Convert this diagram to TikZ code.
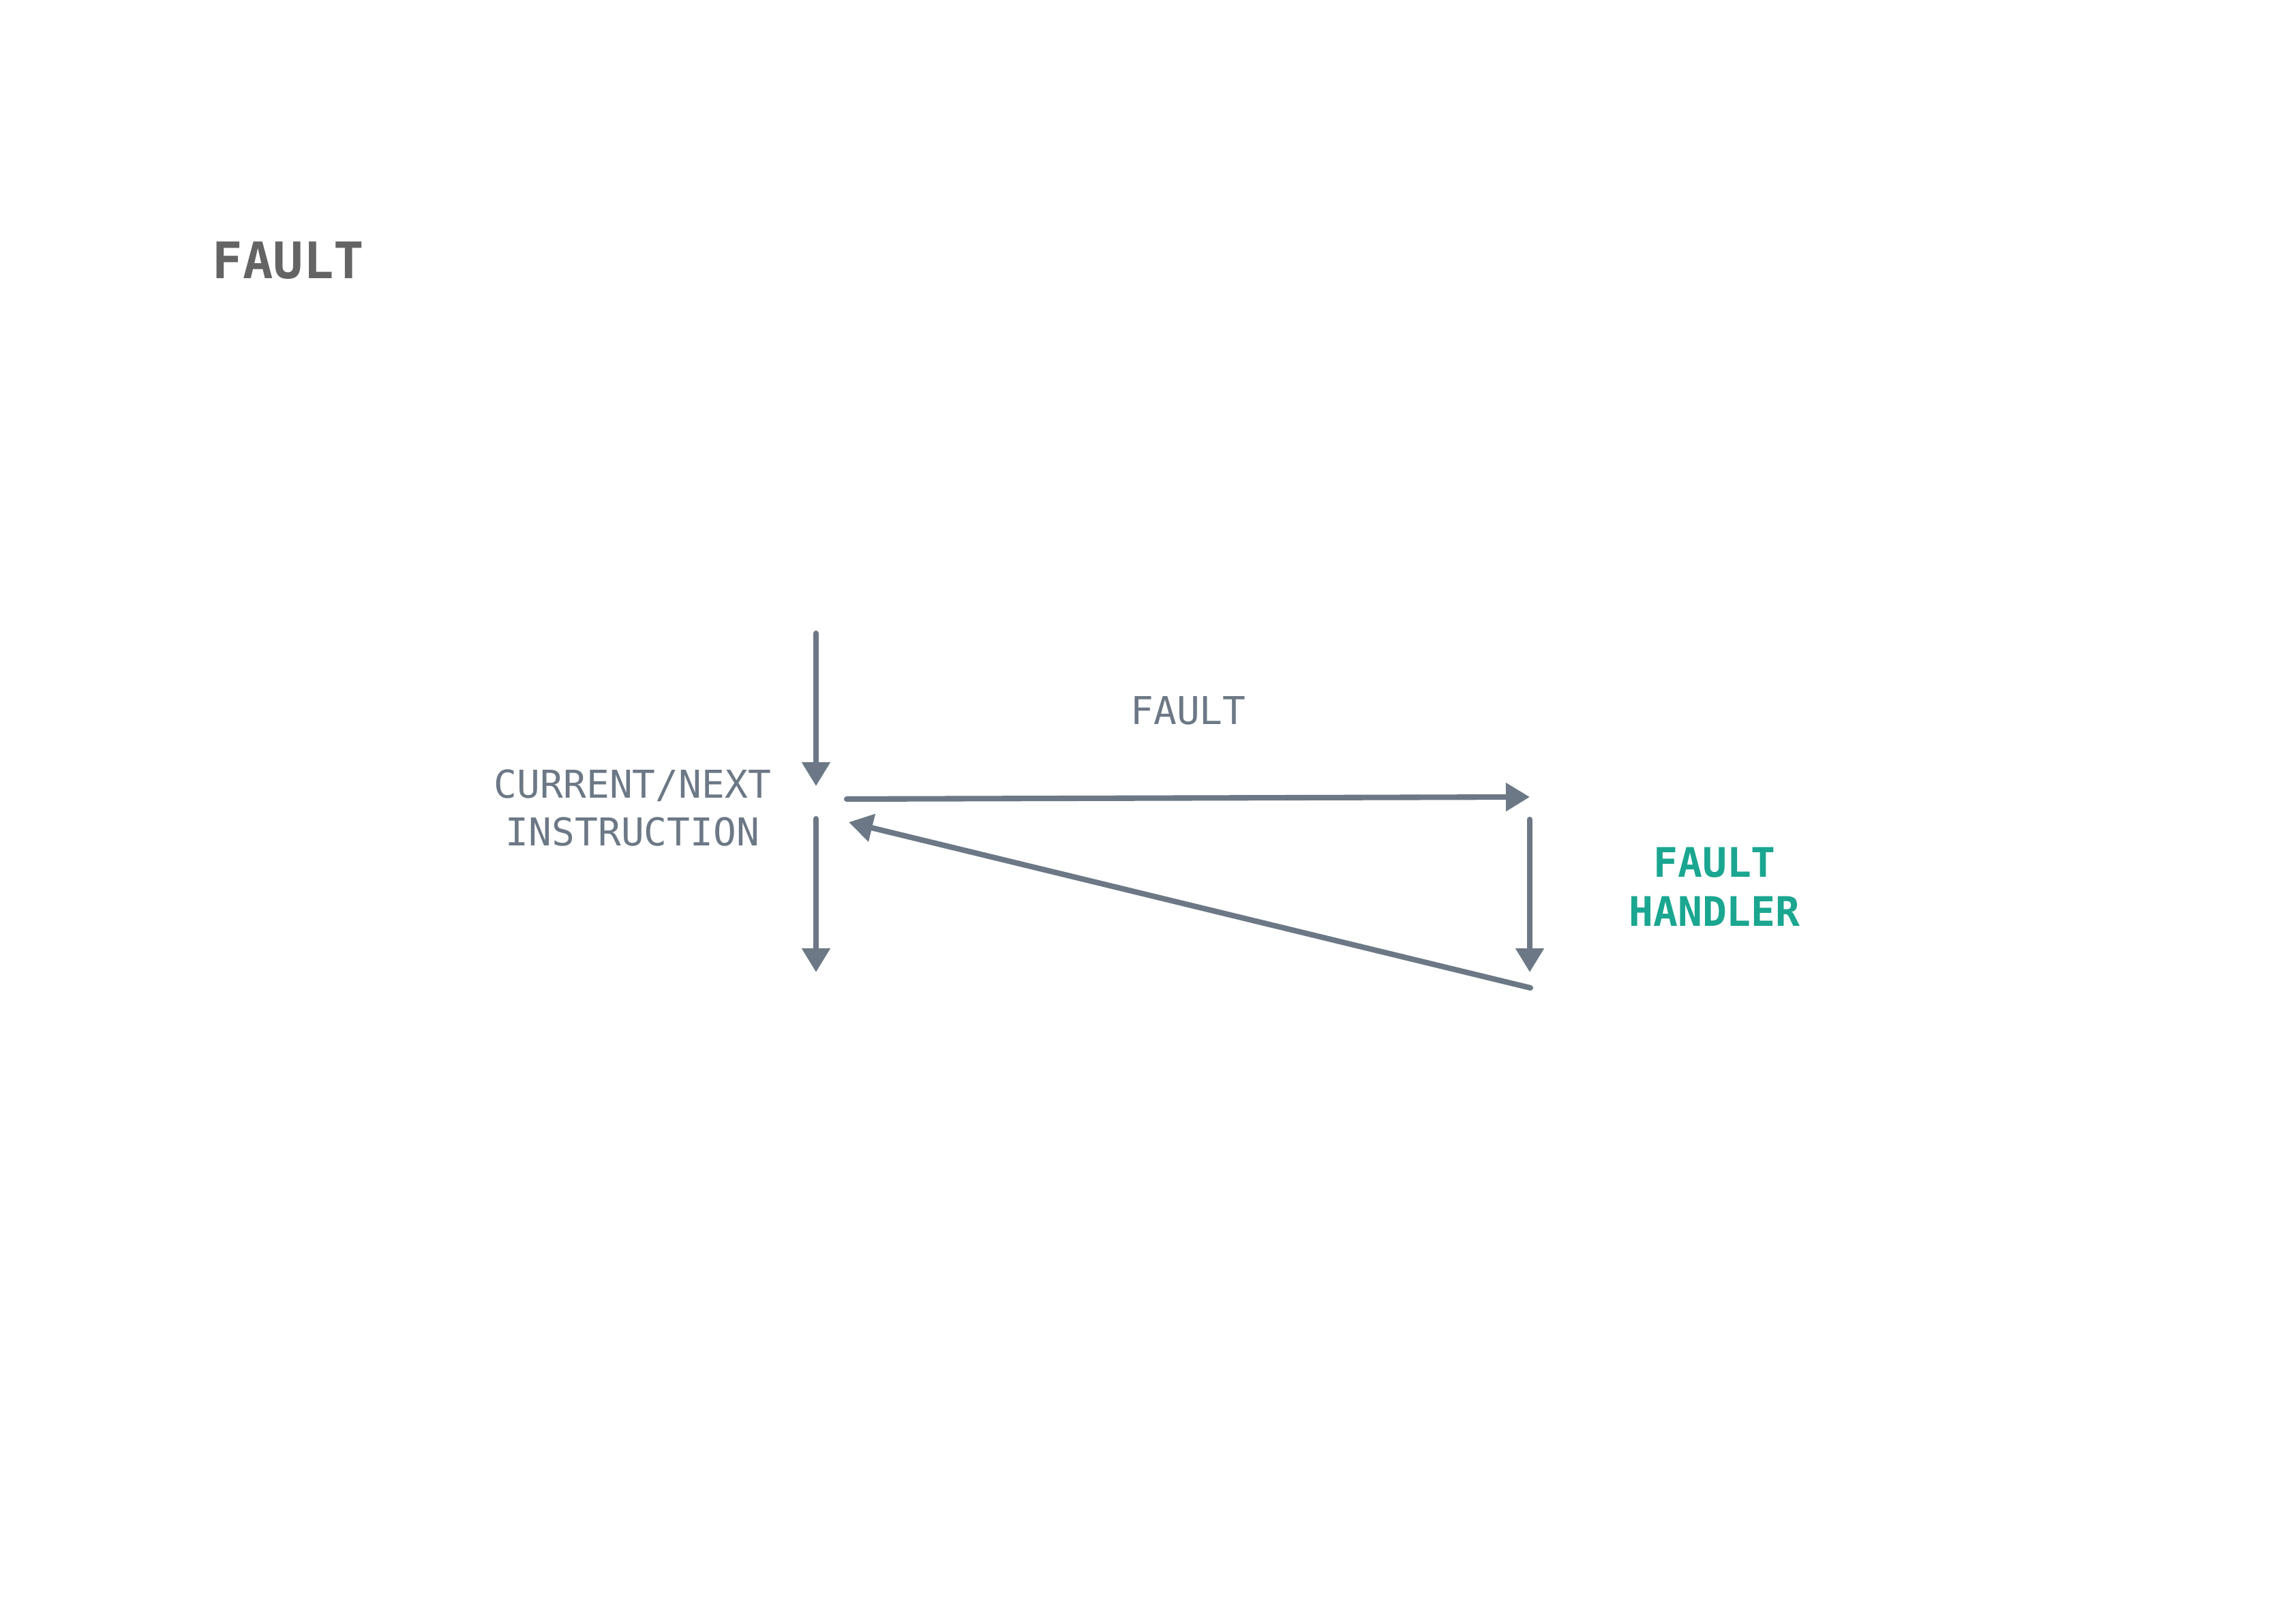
\documentclass[tikz,border=0pt]{standalone}
\usepackage{fontspec}
\setmonofont{DejaVu Sans Mono}
\usetikzlibrary{arrows.meta, positioning}
\definecolor{flowgray}{RGB}{108,120,133}
\definecolor{handlerteal}{RGB}{26,166,144}
\definecolor{titlegray}{RGB}{100,100,100}

\begin{document}
\begin{tikzpicture}[
    >={Triangle[length=3.5mm, width=4mm]},
    font=\ttfamily\fontsize{16}{20}\selectfont,
    arr/.style   = {->, line width=2.3pt, flowgray, line cap=round},
    lbl/.style   = {text=flowgray, align=center, inner sep=0pt},
    hdl/.style   = {text=handlerteal, font=\ttfamily\bfseries\fontsize{17}{20.5}\selectfont,
                    align=center, inner sep=0pt},
    title/.style = {text=titlegray, font=\ttfamily\bfseries\fontsize{21}{25}\selectfont,
                    anchor=west, inner sep=0pt},
]
\useasboundingbox (0,0) rectangle (33.68,23.82);

% ---- title -------------------------------------------------------------------
\node[title] (heading) at (3.11,20.0) {FAULT};

% ---- current instruction column ---------------------------------------------
\coordinate (intop)  at (11.97,14.53);
\coordinate (inend)  at (11.97,12.29);
\coordinate (outtop) at (11.97,11.81);
\coordinate (outend) at (11.97,9.56);
\node[lbl] (instr) at (9.28,11.97) {CURRENT/NEXT\\INSTRUCTION};
\draw[arr] (intop) -- (inend);
\draw[arr] (outtop) -- (outend);

% ---- jump to the handler --------------------------------------------------------
\coordinate (jumpstart) at (12.42,12.10);
\coordinate (jumpend)   at (22.44,12.13);
\node[lbl] (faultlbl) at (17.43,13.40) {FAULT};
\draw[arr] (jumpstart) -- (jumpend);

% ---- fault handler column ---------------------------------------------------------
\coordinate (hdltop) at (22.44,11.80);
\coordinate (hdlend) at (22.44,9.56);
\node[hdl] (handler) at (25.15,10.81) {FAULT\\HANDLER};
\draw[arr] (hdltop) -- (hdlend);

% ---- return ---------------------------------------------------------------------
\coordinate (retstart) at (22.45,9.33);
\coordinate (retend)   at (12.45,11.76);
\draw[arr] (retstart) -- (retend);
\end{tikzpicture}
\end{document}
